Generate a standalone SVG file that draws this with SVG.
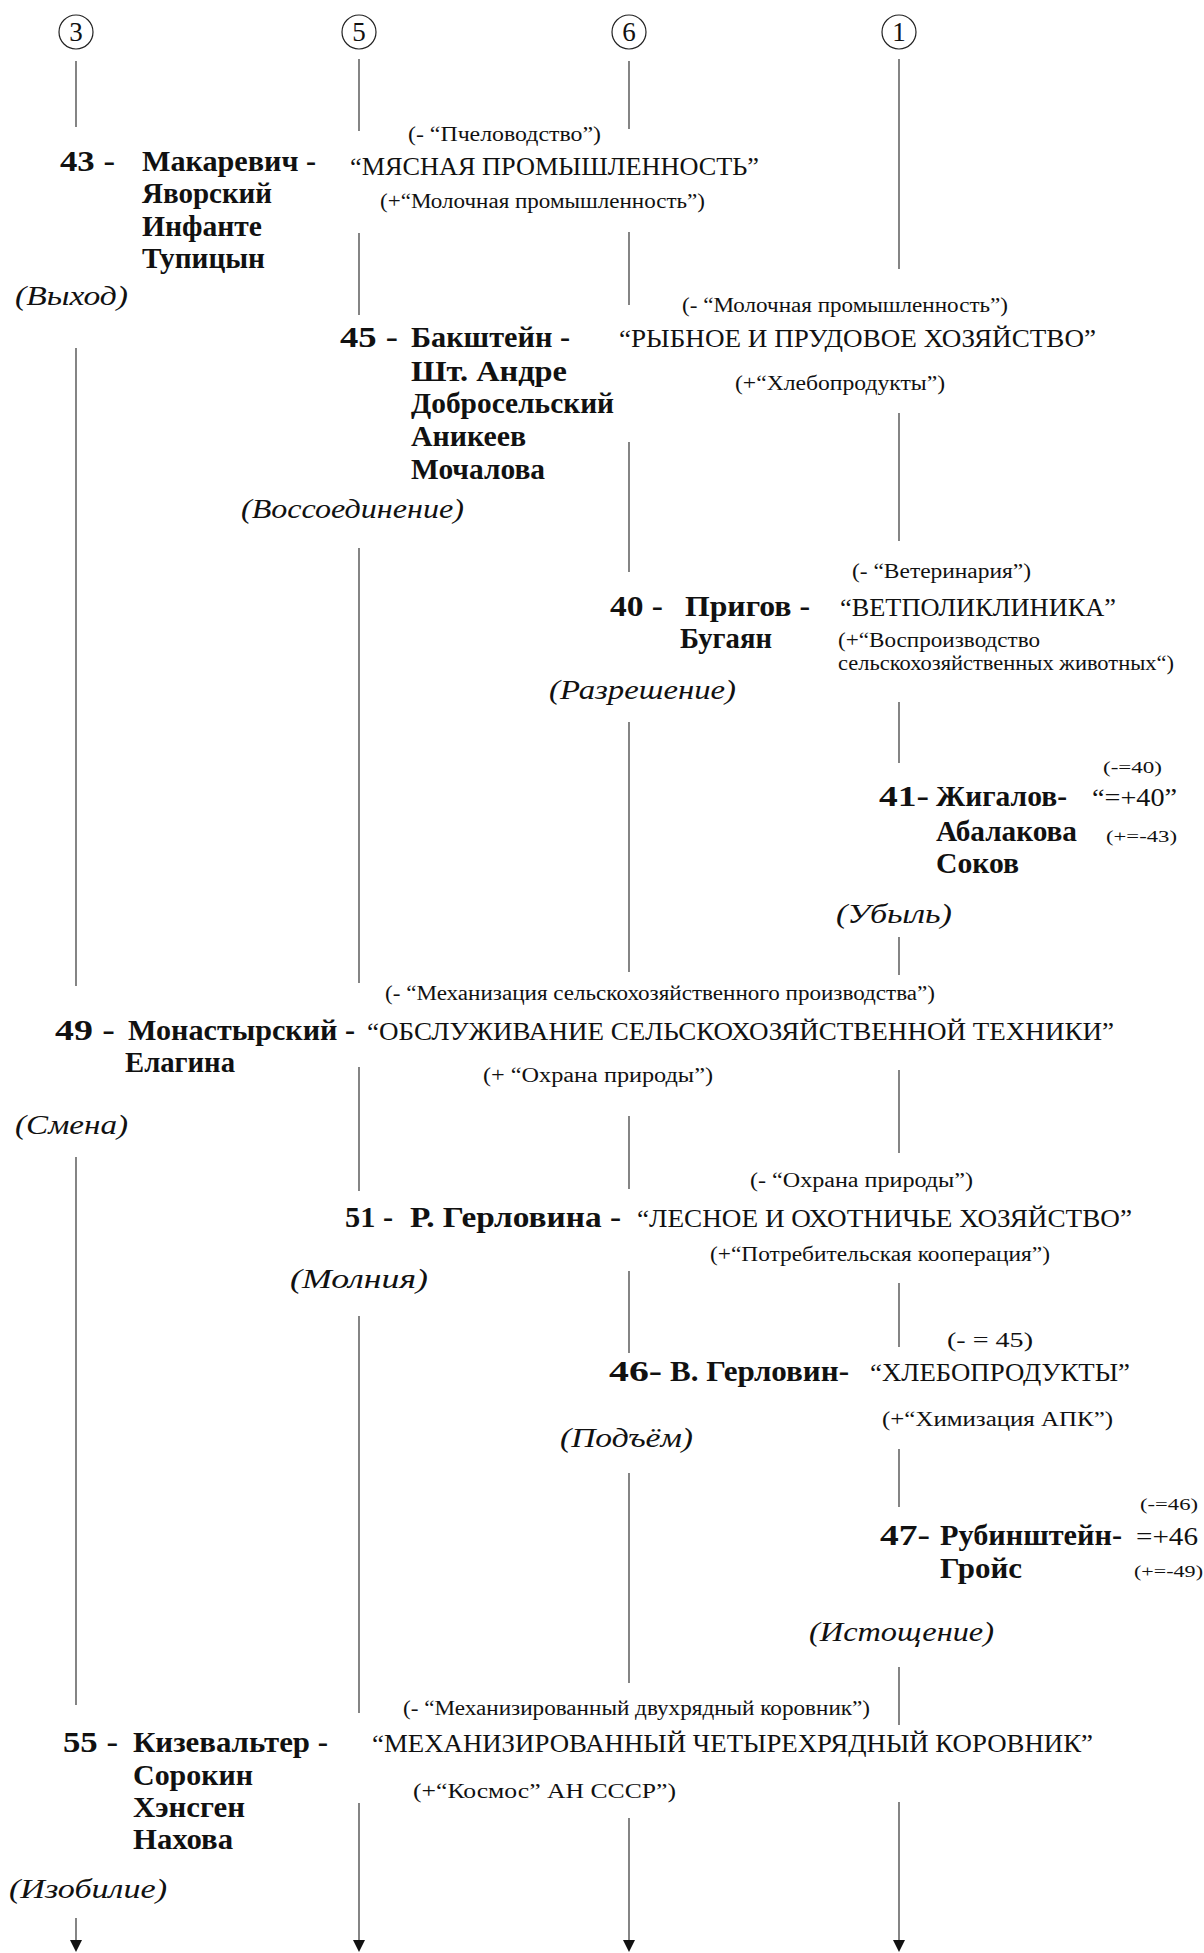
<svg xmlns="http://www.w3.org/2000/svg" width="1204" height="1953" viewBox="0 0 1204 1953">
<style>
text{font-family:"Liberation Serif","Times New Roman",serif;fill:#111}
.b{font-weight:bold;font-size:30px}
.t{font-size:25px}
.s{font-size:20px}
.n{font-size:17px}
.i{font-style:italic;font-size:28px}
.h{font-size:27px;text-anchor:middle}
.c{fill:none;stroke:#222;stroke-width:1.2}
.l{stroke:#333;stroke-width:1.2}
</style>
<defs>
<marker id="arr" viewBox="0 0 12 12" refX="0" refY="6" markerWidth="12" markerHeight="12" markerUnits="userSpaceOnUse" orient="auto">
<path d="M0,0 L12,6 L0,12 z" fill="#111"/>
</marker>
</defs>
<g id="connectors">
<line class="l" x1="76" y1="61" x2="76" y2="127"/>
<line class="l" x1="76" y1="348" x2="76" y2="986"/>
<line class="l" x1="76" y1="1157" x2="76" y2="1705"/>
<line class="l" x1="76" y1="1918" x2="76" y2="1940" marker-end="url(#arr)"/>
<line class="l" x1="359" y1="59" x2="359" y2="131"/>
<line class="l" x1="359" y1="233" x2="359" y2="315"/>
<line class="l" x1="359" y1="548" x2="359" y2="983"/>
<line class="l" x1="359" y1="1067" x2="359" y2="1191"/>
<line class="l" x1="359" y1="1316" x2="359" y2="1713"/>
<line class="l" x1="359" y1="1803" x2="359" y2="1940" marker-end="url(#arr)"/>
<line class="l" x1="629" y1="61" x2="629" y2="129"/>
<line class="l" x1="629" y1="232" x2="629" y2="305"/>
<line class="l" x1="629" y1="442" x2="629" y2="572"/>
<line class="l" x1="629" y1="722" x2="629" y2="972"/>
<line class="l" x1="629" y1="1116" x2="629" y2="1189"/>
<line class="l" x1="629" y1="1271" x2="629" y2="1353"/>
<line class="l" x1="629" y1="1473" x2="629" y2="1683"/>
<line class="l" x1="629" y1="1818" x2="629" y2="1940" marker-end="url(#arr)"/>
<line class="l" x1="899" y1="59" x2="899" y2="269"/>
<line class="l" x1="899" y1="413" x2="899" y2="541"/>
<line class="l" x1="899" y1="702" x2="899" y2="763"/>
<line class="l" x1="899" y1="937" x2="899" y2="975"/>
<line class="l" x1="899" y1="1070" x2="899" y2="1153"/>
<line class="l" x1="899" y1="1283" x2="899" y2="1347"/>
<line class="l" x1="899" y1="1449" x2="899" y2="1507"/>
<line class="l" x1="899" y1="1667" x2="899" y2="1725"/>
<line class="l" x1="899" y1="1802" x2="899" y2="1940" marker-end="url(#arr)"/>
</g>
<g id="head3"><ellipse class="c" cx="76" cy="32" rx="17" ry="17"/><text class="h" x="76" y="41">3</text></g>
<g id="head5"><ellipse class="c" cx="359" cy="32" rx="17" ry="17"/><text class="h" x="359" y="41">5</text></g>
<g id="head6"><ellipse class="c" cx="629" cy="32" rx="17" ry="17"/><text class="h" x="629" y="41">6</text></g>
<g id="head1"><ellipse class="c" cx="899" cy="32" rx="17" ry="17"/><text class="h" x="899" y="41">1</text></g>

<g id="node43">
<text class="b" x="60" y="171" textLength="55" lengthAdjust="spacingAndGlyphs">43 -</text>
<text class="b" x="142" y="171" textLength="174" lengthAdjust="spacingAndGlyphs">Макаревич -</text>
<text class="b" x="142" y="203" textLength="130" lengthAdjust="spacingAndGlyphs">Яворский</text>
<text class="b" x="142" y="236" textLength="120" lengthAdjust="spacingAndGlyphs">Инфанте</text>
<text class="b" x="142" y="268" textLength="123" lengthAdjust="spacingAndGlyphs">Тупицын</text>
<text class="i" x="15" y="305" textLength="113" lengthAdjust="spacingAndGlyphs">(Выход)</text>
<text class="s" x="408" y="141" textLength="193" lengthAdjust="spacingAndGlyphs">(- “Пчеловодство”)</text>
<text class="t" x="350" y="175" textLength="409" lengthAdjust="spacingAndGlyphs">“МЯСНАЯ ПРОМЫШЛЕННОСТЬ”</text>
<text class="s" x="380" y="208" textLength="325" lengthAdjust="spacingAndGlyphs">(+“Молочная промышленность”)</text>
</g>

<g id="node45">
<text class="b" x="340" y="347" textLength="58" lengthAdjust="spacingAndGlyphs">45 -</text>
<text class="b" x="411" y="347" textLength="159" lengthAdjust="spacingAndGlyphs">Бакштейн -</text>
<text class="b" x="411" y="381" textLength="156" lengthAdjust="spacingAndGlyphs">Шт. Андре</text>
<text class="b" x="411" y="413" textLength="203" lengthAdjust="spacingAndGlyphs">Добросельский</text>
<text class="b" x="411" y="446" textLength="115" lengthAdjust="spacingAndGlyphs">Аникеев</text>
<text class="b" x="411" y="479" textLength="134" lengthAdjust="spacingAndGlyphs">Мочалова</text>
<text class="i" x="241" y="518" textLength="223" lengthAdjust="spacingAndGlyphs">(Воссоединение)</text>
<text class="s" x="682" y="312" textLength="326" lengthAdjust="spacingAndGlyphs">(- “Молочная промышленность”)</text>
<text class="t" x="619" y="347" textLength="477" lengthAdjust="spacingAndGlyphs">“РЫБНОЕ И ПРУДОВОЕ ХОЗЯЙСТВО”</text>
<text class="s" x="735" y="390" textLength="210" lengthAdjust="spacingAndGlyphs">(+“Хлебопродукты”)</text>
</g>

<g id="node40">
<text class="b" x="610" y="616" textLength="53" lengthAdjust="spacingAndGlyphs">40 -</text>
<text class="b" x="685" y="616" textLength="125" lengthAdjust="spacingAndGlyphs">Пригов -</text>
<text class="b" x="680" y="648" textLength="92" lengthAdjust="spacingAndGlyphs">Бугаян</text>
<text class="i" x="549" y="699" textLength="187" lengthAdjust="spacingAndGlyphs">(Разрешение)</text>
<text class="s" x="852" y="578" textLength="179" lengthAdjust="spacingAndGlyphs">(- “Ветеринария”)</text>
<text class="t" x="840" y="616" textLength="276" lengthAdjust="spacingAndGlyphs">“ВЕТПОЛИКЛИНИКА”</text>
<text class="s" x="838" y="647" textLength="202" lengthAdjust="spacingAndGlyphs">(+“Воспроизводство</text>
<text class="s" x="838" y="670" textLength="336" lengthAdjust="spacingAndGlyphs">сельскохозяйственных животных“)</text>
</g>

<g id="node41">
<text class="n" x="1103" y="773" textLength="59" lengthAdjust="spacingAndGlyphs">(-=40)</text>
<text class="b" x="879" y="806" textLength="50" lengthAdjust="spacingAndGlyphs">41-</text>
<text class="b" x="936" y="806" textLength="131" lengthAdjust="spacingAndGlyphs">Жигалов-</text>
<text class="t" x="1092" y="806" textLength="85" lengthAdjust="spacingAndGlyphs">“=+40”</text>
<text class="b" x="936" y="841" textLength="141" lengthAdjust="spacingAndGlyphs">Абалакова</text>
<text class="n" x="1106" y="842" textLength="71" lengthAdjust="spacingAndGlyphs">(+=-43)</text>
<text class="b" x="936" y="873" textLength="83" lengthAdjust="spacingAndGlyphs">Соков</text>
<text class="i" x="836" y="923" textLength="116" lengthAdjust="spacingAndGlyphs">(Убыль)</text>
</g>

<g id="node49">
<text class="s" x="385" y="1000" textLength="550" lengthAdjust="spacingAndGlyphs">(- “Механизация сельскохозяйственного производства”)</text>
<text class="b" x="55" y="1040" textLength="60" lengthAdjust="spacingAndGlyphs">49 -</text>
<text class="b" x="128" y="1040" textLength="227" lengthAdjust="spacingAndGlyphs">Монастырский -</text>
<text class="t" x="367" y="1040" textLength="747" lengthAdjust="spacingAndGlyphs">“ОБСЛУЖИВАНИЕ СЕЛЬСКОХОЗЯЙСТВЕННОЙ ТЕХНИКИ”</text>
<text class="b" x="125" y="1072" textLength="110" lengthAdjust="spacingAndGlyphs">Елагина</text>
<text class="s" x="483" y="1082" textLength="230" lengthAdjust="spacingAndGlyphs">(+ “Охрана природы”)</text>
<text class="i" x="15" y="1134" textLength="113" lengthAdjust="spacingAndGlyphs">(Смена)</text>
</g>

<g id="node51">
<text class="s" x="750" y="1187" textLength="223" lengthAdjust="spacingAndGlyphs">(- “Охрана природы”)</text>
<text class="b" x="345" y="1227" textLength="48" lengthAdjust="spacingAndGlyphs">51 -</text>
<text class="b" x="410" y="1227" textLength="211" lengthAdjust="spacingAndGlyphs">Р. Герловина -</text>
<text class="t" x="637" y="1227" textLength="495" lengthAdjust="spacingAndGlyphs">“ЛЕСНОЕ И ОХОТНИЧЬЕ ХОЗЯЙСТВО”</text>
<text class="s" x="710" y="1261" textLength="340" lengthAdjust="spacingAndGlyphs">(+“Потребительская кооперация”)</text>
<text class="i" x="290" y="1288" textLength="138" lengthAdjust="spacingAndGlyphs">(Молния)</text>
</g>

<g id="node46">
<text class="s" x="947" y="1347" textLength="86" lengthAdjust="spacingAndGlyphs">(- = 45)</text>
<text class="b" x="609" y="1381" textLength="53" lengthAdjust="spacingAndGlyphs">46-</text>
<text class="b" x="670" y="1381" textLength="179" lengthAdjust="spacingAndGlyphs">В. Герловин-</text>
<text class="t" x="870" y="1381" textLength="260" lengthAdjust="spacingAndGlyphs">“ХЛЕБОПРОДУКТЫ”</text>
<text class="s" x="882" y="1426" textLength="231" lengthAdjust="spacingAndGlyphs">(+“Химизация АПК”)</text>
<text class="i" x="560" y="1447" textLength="133" lengthAdjust="spacingAndGlyphs">(Подъём)</text>
</g>

<g id="node47">
<text class="n" x="1140" y="1510" textLength="58" lengthAdjust="spacingAndGlyphs">(-=46)</text>
<text class="b" x="880" y="1545" textLength="50" lengthAdjust="spacingAndGlyphs">47-</text>
<text class="b" x="940" y="1545" textLength="182" lengthAdjust="spacingAndGlyphs">Рубинштейн-</text>
<text class="t" x="1136" y="1545" textLength="62" lengthAdjust="spacingAndGlyphs">=+46</text>
<text class="b" x="940" y="1578" textLength="82" lengthAdjust="spacingAndGlyphs">Гройс</text>
<text class="n" x="1134" y="1577" textLength="69" lengthAdjust="spacingAndGlyphs">(+=-49)</text>
<text class="i" x="809" y="1641" textLength="185" lengthAdjust="spacingAndGlyphs">(Истощение)</text>
</g>

<g id="node55">
<text class="s" x="403" y="1715" textLength="467" lengthAdjust="spacingAndGlyphs">(- “Механизированный двухрядный коровник”)</text>
<text class="b" x="63" y="1752" textLength="55" lengthAdjust="spacingAndGlyphs">55 -</text>
<text class="b" x="133" y="1752" textLength="195" lengthAdjust="spacingAndGlyphs">Кизевальтер -</text>
<text class="t" x="372" y="1752" textLength="721" lengthAdjust="spacingAndGlyphs">“МЕХАНИЗИРОВАННЫЙ ЧЕТЫРЕХРЯДНЫЙ КОРОВНИК”</text>
<text class="b" x="133" y="1785" textLength="120" lengthAdjust="spacingAndGlyphs">Сорокин</text>
<text class="s" x="413" y="1798" textLength="263" lengthAdjust="spacingAndGlyphs">(+“Космос” АН СССР”)</text>
<text class="b" x="133" y="1817" textLength="112" lengthAdjust="spacingAndGlyphs">Хэнсген</text>
<text class="b" x="133" y="1849" textLength="100" lengthAdjust="spacingAndGlyphs">Нахова</text>
<text class="i" x="9" y="1898" textLength="158" lengthAdjust="spacingAndGlyphs">(Изобилие)</text>
</g>
</svg>
